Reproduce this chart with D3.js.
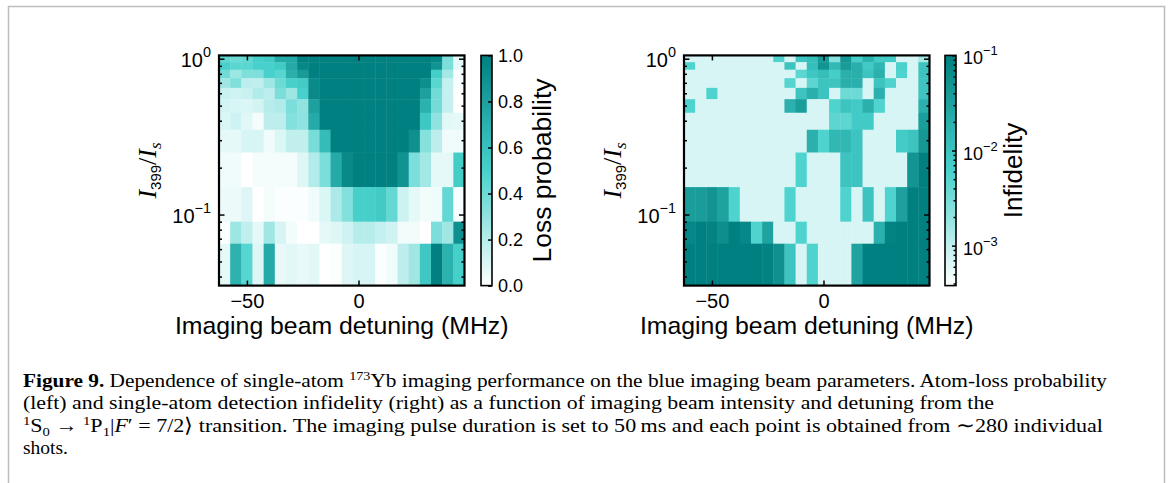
<!DOCTYPE html>
<html><head><meta charset="utf-8">
<script src="https://cdn.jsdelivr.net/npm/d3@7"></script>
<style>body{margin:0;background:#fff;} svg{display:block;}</style>
</head><body>
<svg id="fig" width="1171" height="483"></svg>
<script>
// ---------------- data ----------------
const detuning = [-60,-55,-50,-45,-40,-35,-30,-25,-20,-15,-10,-5,0,5,10,15,20,25,30,35,40,45];
const intensity = [1.0,0.9,0.8,0.7,0.6,0.5,0.4,0.3,0.2,0.1,0.08,0.05];
const lossProb = [
 [0.44,0.40,0.43,0.51,0.54,0.74,0.75,1,1,1,1,1,1,1,1,1,1,1,1,0.95,0.36,0.07],
 [0.50,0.45,0.45,0.50,0.50,0.54,0.75,0.95,1,1,1,1,1,1,1,1,1,1,1,0.88,0.36,0.07],
 [0.39,0.27,0.35,0.35,0.50,0.46,0.71,0.84,1,1,1,1,1,1,1,1,1,1,1,0.52,0.25,0.02],
 [0.26,0.35,0.18,0.17,0.26,0.40,0.51,0.54,0.93,1,1,1,1,1,1,1,1,1,0.91,0.45,0.16,0.02],
 [0.15,0.13,0.15,0.21,0.18,0.36,0.27,0.50,0.94,1,1,1,1,1,1,1,1,1,0.80,0.39,0.16,0.0],
 [0.12,0.11,0.10,0.12,0.20,0.22,0.36,0.30,0.80,1,1,1,1,1,1,1,1,1,0.70,0.38,0.16,0.0],
 [0.10,0.13,0.08,0.03,0.18,0.18,0.34,0.31,0.74,1,1,1,1,1,1,1,1,1,0.56,0.31,0.08,0.07],
 [0.07,0.07,0.11,0.11,0.04,0.10,0.17,0.17,0.37,0.63,1,1,1,1,1,1,1,0.90,0.33,0.18,0.04,0.04],
 [0.04,0.04,0.0,0.03,0.03,0.03,0.03,0.09,0.21,0.36,0.74,0.94,1,1,1,1,0.88,0.36,0.25,0.07,0.07,0.53],
 [0.05,0.05,0.09,0.0,0.03,0.01,0.01,0.01,0.04,0.10,0.23,0.34,0.51,0.51,0.54,0.42,0.14,0.07,0.035,0.04,0.43,0.02],
 [0.01,0.27,0.17,0.07,0.26,0.11,0.035,0.0,0.0,0.07,0.09,0.13,0.20,0.20,0.16,0.13,0.035,0.035,0.0,0.36,0.26,0.90],
 [0.07,0.69,0.46,0.09,0.74,0.06,0.08,0.06,0.08,0.0,0.015,0.09,0.11,0.11,0.01,0.04,0.18,0.26,0.56,1.0,0.70,0.51]
];
const B = 7e-4;
const infidelity = [
 [B,B,B,B,B,B,B,B,5.5e-3,B,9e-3,0.012,0.04,2.5e-3,0.045,7e-3,0.018,7.5e-3,7.5e-3,B,B,1.5e-3],
 [5.5e-3,B,B,B,B,B,B,B,B,9.6e-3,B,0.012,0.05,0.014,0.04,0.02,8e-3,0.016,B,6e-3,B,9.6e-3],
 [B,B,B,B,B,B,B,B,B,B,4.5e-3,9e-3,0.012,7e-3,0.02,0.02,9.6e-3,0.019,B,5.5e-3,B,9.6e-3],
 [B,B,B,B,B,B,B,B,B,5e-3,B,4.5e-3,9.6e-3,9.6e-3,0.02,0.02,B,9.6e-3,5.5e-3,B,B,9.6e-3],
 [B,B,5.5e-3,B,B,B,B,B,B,B,9.6e-3,0.02,9.6e-3,B,3.5e-3,3.5e-3,B,0.019,B,B,B,9.6e-3],
 [5.5e-3,B,B,B,B,B,B,B,B,0.019,0.036,B,B,5.5e-3,9.6e-3,7.8e-3,0.019,5.5e-3,B,B,B,0.019],
 [B,B,B,B,B,B,B,B,B,B,B,B,B,4.5e-3,4.5e-3,7.8e-3,7.8e-3,B,B,B,B,0.036],
 [B,B,B,B,B,B,B,B,B,B,B,0.019,5.5e-3,0.015,0.015,9.6e-3,B,B,B,7.5e-3,9.6e-3,0.045],
 [B,B,B,B,B,B,B,B,B,B,5.5e-3,B,B,B,9.6e-3,9.6e-3,B,B,B,B,0.05,0.12],
 [0.036,0.038,0.05,0.03,5.5e-3,B,B,B,B,5.5e-3,B,B,B,B,5.5e-3,B,9.6e-3,B,5.5e-3,0.033,0.12,0.12],
 [0.08,0.1,0.09,0.06,0.1,0.075,5.5e-3,0.03,B,B,5.5e-3,B,B,B,B,B,B,0.019,0.09,0.12,0.12,0.12],
 [0.12,0.12,0.12,0.12,0.12,0.12,0.12,0.09,0.055,9.6e-3,B,5.5e-3,B,B,B,0.03,0.12,0.12,0.12,0.12,0.12,0.12]
];
const xTicks = [-50, 0];
const yMajor = [1, 0.1];
const yMajorExp = ["0","−1"];
const yMinor = [0.9,0.8,0.7,0.6,0.5,0.4,0.3,0.2,0.09,0.08,0.07,0.06,0.05,0.04];
const lossTicks = [0,0.2,0.4,0.6,0.8,1.0];
const lossTickLabels = ["0.0","0.2","0.4","0.6","0.8","1.0"];
const infRange = [3.8e-4, 0.1];
const infMajor = [1e-3,1e-2,1e-1];
const infMajorExp = ["−3","−2","−1"];
const xLabel = "Imaging beam detuning (MHz)";
const cbLabels = ["Loss probability","Infidelity"];
const captionLines = [
 [{t:"Figure 9.",b:1},{t:" Dependence of single-atom "},{t:"173",s:"sup"},{t:"Yb imaging performance on the blue imaging beam parameters. Atom-loss probability"}],
 [{t:"(left) and single-atom detection infidelity (right) as a function of imaging beam intensity and detuning from the"}],
 [{t:"1",s:"sup"},{t:"S"},{t:"0",s:"sub"},{t:" → "},{t:"1",s:"sup"},{t:"P"},{t:"1",s:"sub"},{t:"|"},{t:"F",i:1},{t:"′ = 7/2⟩ transition. The imaging pulse duration is set to 50\u2009ms and each point is obtained from ∼280 individual"}],
 [{t:"shots."}]
];
const captionWidths = [1084, 971, 1080, 0];

// ---------------- drawing ----------------
const svg = d3.select("#fig");
const SANS = "'Liberation Sans', Arial, Helvetica, sans-serif";
const SERIF = "'Liberation Serif', 'Times New Roman', serif";

svg.append("path").attr("d","M8.5,483 V6.5 H1164.5 V483")
  .attr("fill","none").attr("stroke","#bdbdbd").attr("stroke-width",1.5);

const cmap = d3.scaleLinear().domain([0,0.5,1]).range(["#ffffff","#48d1cc","#008080"]).clamp(true);

function edges(c){
  const m=[]; for(let i=0;i<c.length-1;i++) m.push((c[i]+c[i+1])/2);
  return [c[0]-(m[0]-c[0]), ...m, c[c.length-1]+(c[c.length-1]-m[m.length-1])];
}
const xEdges = edges(detuning), yEdges = edges(intensity);
const TOP = 55.4, BOT = 285.6, PW = 245.5;

function sup10(g, x, y, exp, fs, anchor){
  const t = g.append("text").attr("x",x).attr("y",y).attr("text-anchor",anchor)
    .attr("font-family",SANS).attr("font-size",fs).attr("fill","#000");
  t.append("tspan").text("10");
  t.append("tspan").attr("dy",-fs*0.5).attr("font-size",fs*0.72).text(exp);
}

function panel(x0, grid, colorOf, cb){
  const x = d3.scaleLinear().domain([xEdges[0], xEdges[xEdges.length-1]]).range([x0, x0+PW]);
  const y = d3.scaleLog().domain([yEdges[yEdges.length-1], yEdges[0]]).range([BOT, TOP]);
  const g = svg.append("g");
  const cells = [];
  grid.forEach((row,i)=>row.forEach((v,j)=>cells.push({i,j,v})));
  g.selectAll("rect.cell").data(cells).join("rect").attr("class","cell")
    .attr("x", d=>x(xEdges[d.j])).attr("width", d=>x(xEdges[d.j+1])-x(xEdges[d.j])+0.4)
    .attr("y", d=>y(yEdges[d.i])).attr("height", d=>y(yEdges[d.i+1])-y(yEdges[d.i])+0.4)
    .attr("fill", d=>colorOf(d.v));

  const tickStyle = sel => { sel.select(".domain").remove(); sel.selectAll("line").attr("stroke","#000").attr("stroke-width",1.5); };
  // x axes
  g.append("g").attr("transform",`translate(0,${BOT})`)
    .call(d3.axisBottom(x).tickValues(xTicks).tickSizeInner(-5).tickSizeOuter(0).tickPadding(8)
      .tickFormat(d=> d<0 ? "−"+(-d) : String(d)))
    .call(tickStyle)
    .call(s=>s.selectAll("text").attr("font-family",SANS).attr("font-size",20).attr("fill","#000"));
  g.append("g").attr("transform",`translate(0,${TOP})`)
    .call(d3.axisTop(x).tickValues(xTicks).tickSizeInner(-5).tickSizeOuter(0).tickFormat(""))
    .call(tickStyle);
  // y axes
  [[d3.axisLeft, x0],[d3.axisRight, x0+PW]].forEach(([ax,px])=>{
    g.append("g").attr("transform",`translate(${px},0)`)
      .call(ax(y).tickValues(yMajor).tickSizeInner(-5.5).tickSizeOuter(0).tickFormat(""))
      .call(tickStyle);
    g.append("g").attr("transform",`translate(${px},0)`)
      .call(ax(y).tickValues(yMinor).tickSizeInner(-3).tickSizeOuter(0).tickFormat(""))
      .call(tickStyle);
  });
  yMajor.forEach((v,i)=> sup10(g, x0-8, y(v)+8, yMajorExp[i], 20, "end"));
  // border
  g.append("rect").attr("x",x0).attr("y",TOP).attr("width",PW).attr("height",BOT-TOP)
    .attr("fill","none").attr("stroke","#000").attr("stroke-width",2.2);
  // x label
  g.append("text").attr("x",x0+PW/2).attr("y",334).attr("text-anchor","middle")
    .attr("font-family",SANS).attr("font-size",24.8).attr("fill","#000").text(xLabel);
  // y label
  const yl = g.append("text").attr("transform",`translate(${x0-63},170.5) rotate(-90)`)
    .attr("text-anchor","middle").attr("font-family",SERIF).attr("font-size",26).attr("fill","#000");
  yl.append("tspan").attr("font-style","italic").text("I");
  yl.append("tspan").attr("font-family",SANS).attr("font-size",15).attr("dy",5).text("399");
  yl.append("tspan").attr("dy",-5).text("/");
  yl.append("tspan").attr("font-style","italic").text("I");
  yl.append("tspan").attr("font-style","italic").attr("font-size",17).attr("dy",5).text("s");

  // colorbar
  const cx = x0 + cb.dx, cw = 11;
  const gid = "grad"+x0;
  const grad = svg.append("defs").append("linearGradient").attr("id",gid)
    .attr("x1",0).attr("y1",1).attr("x2",0).attr("y2",0);
  d3.range(0,1.0001,0.05).forEach(t=> grad.append("stop").attr("offset",t).attr("stop-color",cmap(t)));
  g.append("rect").attr("x",cx).attr("y",TOP).attr("width",cw).attr("height",BOT-TOP).attr("fill",`url(#${gid})`);
  const cs = cb.scale.range([BOT, TOP]);
  g.append("g").attr("transform",`translate(${cx+cw},0)`)
    .call(d3.axisRight(cs).tickValues(cb.major).tickSizeInner(-4).tickSizeOuter(0).tickFormat(""))
    .call(tickStyle);
  if(cb.minor){
    g.append("g").attr("transform",`translate(${cx+cw},0)`)
      .call(d3.axisRight(cs).tickValues(cb.minor).tickSizeInner(-2.5).tickSizeOuter(0).tickFormat(""))
      .call(tickStyle);
  }
  g.append("rect").attr("x",cx).attr("y",TOP).attr("width",cw).attr("height",BOT-TOP)
    .attr("fill","none").attr("stroke","#000").attr("stroke-width",1.6);
  cb.labels(g, cs, cx+cw+6);
  g.append("text").attr("transform",`translate(${cx+cb.labDx},170.5) rotate(-90)`)
    .attr("text-anchor","middle").attr("font-family",SANS).attr("font-size",cb.labFs).attr("fill","#000")
    .text(cb.title);
}

const lossScale = d3.scaleLinear().domain([0,1]);
panel(219, lossProb, v=>cmap(v), {
  dx: 262, scale: lossScale, major: lossTicks, minor: null, title: cbLabels[0], labDx: 70, labFs: 26.5,
  labels: (g, cs, lx) => lossTicks.forEach((v,i)=> g.append("text").attr("x",lx).attr("y",cs(v)+6.5)
      .attr("font-family",SANS).attr("font-size",18).attr("fill","#000").text(lossTickLabels[i]))
});
const infScale = d3.scaleLog().domain(infRange);
const infNorm = d3.scaleLog().domain(infRange).range([0,1]).clamp(true);
const infMinor = [];
[1e-4,1e-3,1e-2].forEach(d=> d3.range(2,10).forEach(k=>{ const v=d*k; if(v>=infRange[0] && v<=infRange[1]) infMinor.push(v); }));
panel(684, infidelity, v=>cmap(infNorm(v)), {
  dx: 261, scale: infScale, major: infMajor, minor: infMinor, title: cbLabels[1], labDx: 77, labFs: 26,
  labels: (g, cs, lx) => infMajor.forEach((v,i)=> sup10(g, lx+1, cs(v)+9, infMajorExp[i], 18, "start"))
});

// caption
captionLines.forEach((line, li)=>{
  const t = svg.append("text").attr("x",23).attr("y",386.5 + li*22.6)
    .attr("font-family",SERIF).attr("font-size",19.5).attr("fill","#000");
  if(captionWidths[li]) t.attr("textLength",captionWidths[li]).attr("lengthAdjust","spacingAndGlyphs");
  let shift = 0;
  line.forEach(seg=>{
    const target = seg.s==="sup" ? -7 : seg.s==="sub" ? 4 : 0;
    const ts = t.append("tspan").text(seg.t).attr("dy", target-shift);
    shift = target;
    if(seg.s) ts.attr("font-size",13);
    if(seg.b) ts.attr("font-weight","bold");
    if(seg.i) ts.attr("font-style","italic");
  });
});
</script>
</body></html>
